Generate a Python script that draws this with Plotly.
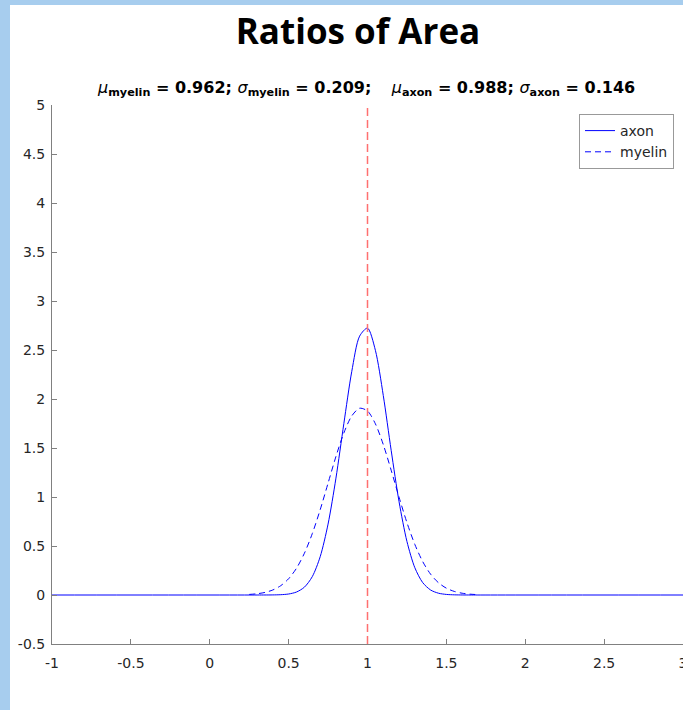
import plotly.graph_objects as go

# ---- data ----
axon_x = [-1.0, 0.30, 0.35, 0.40, 0.45, 0.50, 0.55, 0.60, 0.65, 0.70, 0.75, 0.80, 0.85, 0.90, 0.95,
          1.00, 1.05, 1.10, 1.15, 1.20, 1.25, 1.30, 1.35, 1.40, 1.45, 1.50, 1.55, 1.60, 1.65, 1.70, 3.0]
axon_y = [0.0, 0.0, 0.0002, 0.0008, 0.0031, 0.0102, 0.0304, 0.080, 0.1875, 0.3905, 0.7235, 1.1928,
          1.7483, 2.2787, 2.6415, 2.7233, 2.4970, 2.036, 1.4764, 0.952, 0.5462, 0.2785, 0.1264,
          0.0510, 0.0183, 0.0058, 0.0017, 0.0004, 0.0001, 0.0, 0.0]

myelin_x = [0.25, 0.30, 0.35, 0.40, 0.45, 0.50, 0.55, 0.60, 0.65, 0.70, 0.75, 0.80, 0.85, 0.90, 0.95,
            1.00, 1.05, 1.10, 1.15, 1.20, 1.25, 1.30, 1.35, 1.40, 1.45, 1.50, 1.55, 1.60, 1.65, 1.70]
myelin_y = [0.0058, 0.0127, 0.0262, 0.0514, 0.0950, 0.1659, 0.2734, 0.4259, 0.6263, 0.8699, 1.1411,
            1.4135, 1.6534, 1.8267, 1.9057, 1.8775, 1.7469, 1.5351, 1.2736, 0.9981, 0.7387, 0.5162,
            0.3407, 0.2123, 0.1250, 0.0695, 0.0365, 0.0181, 0.0085, 0.0037]

ref_x = 1.0
x_ticks = [-1, -0.5, 0, 0.5, 1, 1.5, 2, 2.5, 3]
y_ticks = [-0.5, 0, 0.5, 1, 1.5, 2, 2.5, 3, 3.5, 4, 4.5, 5]
title_text = "Ratios of Area"
stats_text = ("<i>μ</i><b><sub>myelin</sub> = 0.962; </b><i>σ</i><b><sub>myelin</sub> = 0.209;</b>"
              "&nbsp;&nbsp;&nbsp;&nbsp;<i>μ</i><b><sub>axon</sub> = 0.988; </b><i>σ</i><b><sub>axon</sub> = 0.146</b>")

# ---- layout constants ----
W, H = 683, 710
L, R, T, B = 52, 0, 105, 66
PW = W - L - R
PH = H - T - B
FRAME_LEFT, FRAME_TOP = 10, 5
TICK_FONT = dict(family="DejaVu Sans, Liberation Sans, Arial", size=14, color="#262626")

fig = go.Figure()
fig.add_trace(go.Scatter(x=axon_x, y=axon_y, mode="lines", name="axon", legendgroup="a",
                         line=dict(color="#0000FF", width=1, shape="spline", smoothing=0.8)))
fig.add_trace(go.Scatter(x=myelin_x, y=myelin_y, mode="lines", name="myelin", legendgroup="m",
                         line=dict(color="#0000FF", width=1, dash="6px,4px", shape="spline", smoothing=0.8)))

fig.add_vline(x=ref_x, line=dict(color="#FF7070", width=1.5, dash="8px,4px"))

axis_common = dict(showline=True, linecolor="#808080", linewidth=1, ticks="inside", ticklen=5,
                   tickcolor="#808080", showgrid=False, zeroline=False, tickfont=TICK_FONT,
                   ticklabeloverflow="allow", automargin=False)

fig.update_xaxes(range=[-1, 3], tickvals=x_ticks, ticktext=[f"{v:g}" for v in x_ticks],
                 ticklabelstandoff=6, **axis_common)
fig.update_yaxes(range=[-0.5, 5], tickvals=y_ticks, ticktext=[f"{v:g}" for v in y_ticks],
                 ticklabelstandoff=3, **axis_common)

# white slide area over the light-blue paper (leaves blue strips on the left and top)
fig.add_shape(type="rect", xref="paper", yref="paper",
              x0=(FRAME_LEFT - L) / PW, x1=1.05,
              y0=-B / PH - 0.05, y1=1 + (T - FRAME_TOP) / PH,
              fillcolor="white", line=dict(width=0), layer="below")

fig.add_annotation(text=stats_text, xref="paper", yref="paper", x=(366 - L) / PW, y=1, yshift=17,
                   xanchor="center", yanchor="middle", showarrow=False,
                   font=dict(family="DejaVu Sans, Liberation Sans, Arial", size=16, color="#000000"))

fig.update_layout(
    width=W, height=H,
    margin=dict(l=L, r=R, t=T, b=B, pad=0, autoexpand=False),
    paper_bgcolor="#A7CDEE", plot_bgcolor="white",
    title=dict(text="<b>" + title_text + "</b>", x=358 / W, xanchor="center",
               y=1 - 32 / H, yanchor="middle", yref="container",
               font=dict(family="Open Sans, Lato, sans-serif", size=35, color="#000000")),
    legend=dict(x=(674 - L) / PW, xanchor="right", y=1 - (114 - T) / PH, yanchor="top",
                bordercolor="#999999", borderwidth=1, bgcolor="white",
                font=dict(family="DejaVu Sans, Liberation Sans, Arial", size=14, color="#262626"),
                itemwidth=30, tracegroupgap=0),
    showlegend=True,
)

fig.write_html("out.html", config={"displayModeBar": False},
               post_script="document.body.style.margin='0';document.body.style.overflow='hidden';")
